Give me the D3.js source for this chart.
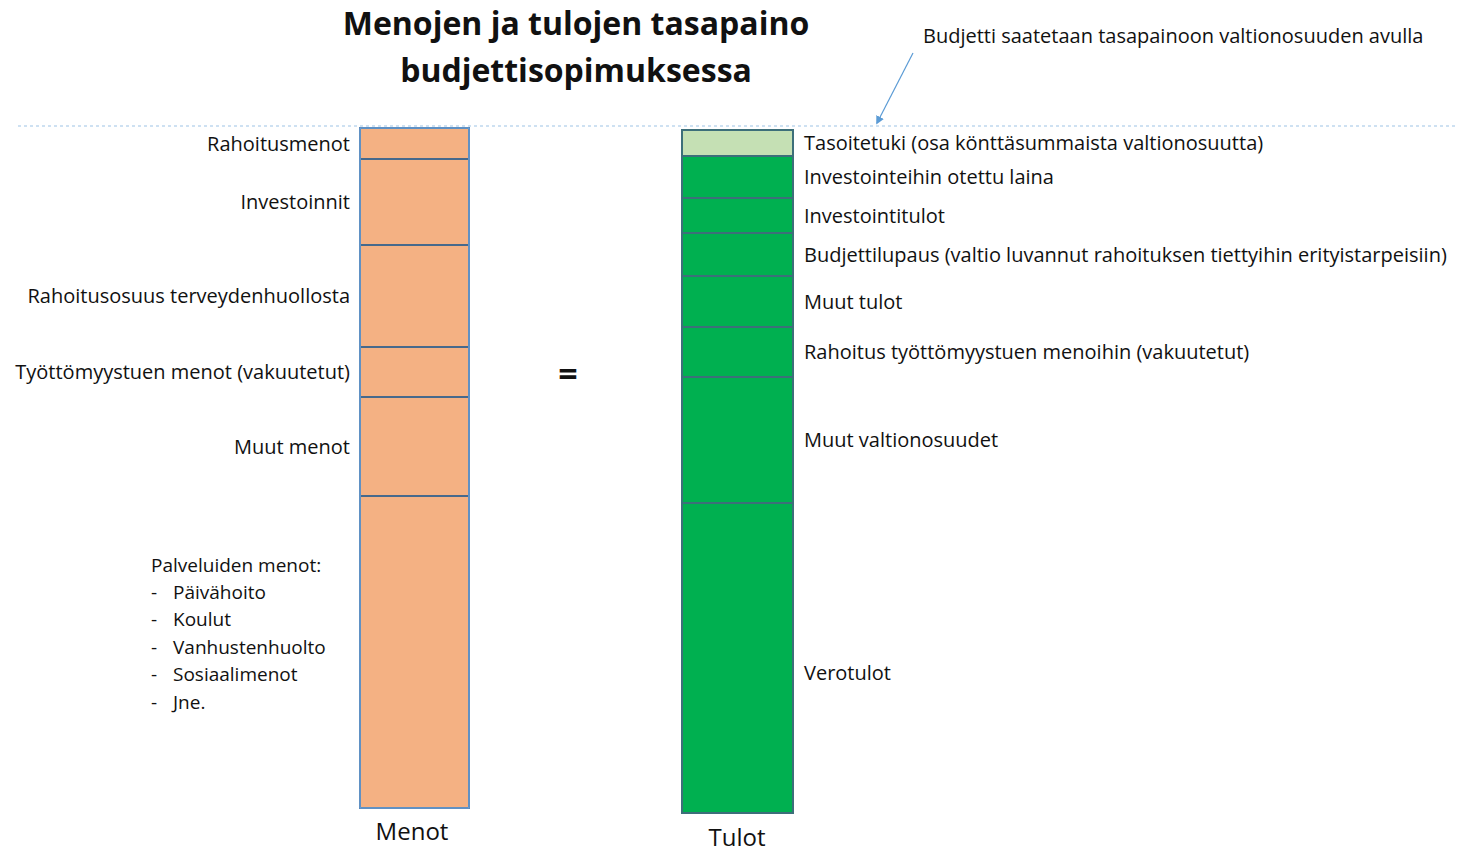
<!DOCTYPE html>
<html>
<head>
<meta charset="utf-8">
<script src="https://cdn.jsdelivr.net/npm/d3@7"></script>
<style>
  body { margin: 0; background: #fff; }
  text { font-family: "Open Sans", Lato, sans-serif; fill: #111; }
</style>
</head>
<body>
<div id="div_chart"></div>
<script>
// expenses (menot), top to bottom
const menotLabels = ["Rahoitusmenot", "Investoinnit", "Rahoitusosuus terveydenhuollosta",
  "Työttömyystuen menot (vakuutetut)", "Muut menot", "Palveluiden menot:"];
const menotValues = [31, 86, 102, 50, 99, 312];
const palveluItems = ["Päivähoito", "Koulut", "Vanhustenhuolto", "Sosiaalimenot", "Jne."];

// income (tulot), top to bottom
const tulotLabels = ["Tasoitetuki (osa könttäsummaista valtionosuutta)", "Investointeihin otettu laina",
  "Investointitulot", "Budjettilupaus (valtio luvannut rahoituksen tiettyihin erityistarpeisiin)",
  "Muut tulot", "Rahoitus työttömyystuen menoihin (vakuutetut)", "Muut valtionosuudet", "Verotulot"];
const tulotValues = [26, 42, 35, 43, 51, 50, 126, 310];
const tulotColors = ["#c5e0b4", "#00b050", "#00b050", "#00b050", "#00b050", "#00b050", "#00b050", "#00b050"];

const titleLines = ["Menojen ja tulojen tasapaino", "budjettisopimuksessa"];
const note = "Budjetti saatetaan tasapainoon valtionosuuden avulla";

const width = 1457, height = 853;
const barW = 110;

const svg = d3.select("#div_chart")
  .append("svg")
    .attr("width", width)
    .attr("height", height);

// turn values into stacked segments
function stack(values, labels) {
  const ends = d3.cumsum(values);
  return values.map((v, i) => ({label: labels[i], y0: ends[i] - v, y1: ends[i], i}));
}
const menot = stack(menotValues, menotLabels);
const tulot = stack(tulotValues, tulotLabels);

// scales
const x = d3.scaleOrdinal().domain(["Menot", "Tulot"]).range([360, 682]);
const yL = d3.scaleLinear().domain([0, d3.sum(menotValues)]).range([128, 808]);
const yR = d3.scaleLinear().domain([0, d3.sum(tulotValues)]).range([130, 813]);

// title
svg.append("g").selectAll("text")
  .data(titleLines)
  .join("text")
    .attr("x", 576)
    .attr("y", (d, i) => 35 + i * 47)
    .attr("text-anchor", "middle")
    .style("font-size", "32px")
    .style("font-weight", "bold")
    .text(d => d);

// balance line
svg.append("line")
  .attr("x1", 18).attr("x2", width)
  .attr("y1", 126).attr("y2", 126)
  .attr("stroke", "#9dc3e6")
  .attr("stroke-width", 1.2)
  .attr("stroke-dasharray", "3,3");

// annotation + arrow
svg.append("defs").append("marker")
  .attr("id", "arrow")
  .attr("viewBox", "0 0 10 10")
  .attr("refX", 8).attr("refY", 5)
  .attr("markerWidth", 7).attr("markerHeight", 7)
  .attr("orient", "auto")
  .append("path")
    .attr("d", "M0,0 L10,5 L0,10 z")
    .attr("fill", "#5b9bd5");

svg.append("line")
  .attr("x1", 913).attr("y1", 53)
  .attr("x2", 877).attr("y2", 123)
  .attr("stroke", "#5b9bd5")
  .attr("stroke-width", 1.2)
  .attr("marker-end", "url(#arrow)");

svg.append("text")
  .attr("x", 923).attr("y", 43)
  .style("font-size", "20px")
  .text(note);

// expenses bar
const gL = svg.append("g");
gL.selectAll("rect")
  .data(menot)
  .join("rect")
    .attr("x", x("Menot"))
    .attr("width", barW - 1)
    .attr("y", d => yL(d.y0))
    .attr("height", d => yL(d.y1) - yL(d.y0))
    .attr("fill", "#f4b183")
    .attr("stroke", "#46698c")
    .attr("stroke-width", 2);

// light blue outer frame of the expenses bar
gL.append("rect")
  .attr("x", x("Menot"))
  .attr("width", barW - 1)
  .attr("y", yL(0))
  .attr("height", yL(d3.sum(menotValues)) - yL(0))
  .attr("fill", "none")
  .attr("stroke", "#6a9fd6")
  .attr("stroke-width", 1.5);

gL.selectAll("text.lbl")
  .data(menot.slice(0, 5))
  .join("text")
    .attr("class", "lbl")
    .attr("x", x("Menot") - 10)
    .attr("y", d => (yL(d.y0) + yL(d.y1)) / 2)
    .attr("dy", "0.35em")
    .attr("text-anchor", "end")
    .style("font-size", "20px")
    .text(d => d.label);

// services block
const pal = menot[5];
const palTop = yL(pal.y0) + 69;
gL.append("text")
  .attr("x", 151).attr("y", palTop)
  .attr("dy", "0.35em")
  .style("font-size", "19px")
  .text(pal.label);
const items = gL.selectAll("g.item")
  .data(palveluItems)
  .join("g")
    .attr("class", "item")
    .attr("transform", (d, i) => `translate(0,${palTop + 27 + i * 27.5})`);
items.append("text")
  .attr("x", 151).attr("dy", "0.35em")
  .style("font-size", "19px")
  .text("-");
items.append("text")
  .attr("x", 173).attr("dy", "0.35em")
  .style("font-size", "19px")
  .text(d => d);

// income bar
const gR = svg.append("g");
gR.selectAll("rect")
  .data(tulot)
  .join("rect")
    .attr("x", x("Tulot"))
    .attr("width", barW + 1)
    .attr("y", d => yR(d.y0))
    .attr("height", d => yR(d.y1) - yR(d.y0))
    .attr("fill", d => tulotColors[d.i])
    .attr("stroke", "#3d6f7a")
    .attr("stroke-width", 2);

gR.selectAll("text")
  .data(tulot)
  .join("text")
    .attr("x", x("Tulot") + barW + 12)
    .attr("y", d => (yR(d.y0) + yR(d.y1)) / 2 + (d.i === 7 ? 15 : 0))
    .attr("dy", "0.35em")
    .style("font-size", "20px")
    .text(d => d.label);

// bar names
svg.append("text")
  .attr("x", x("Menot") + barW / 2 - 3)
  .attr("y", 840)
  .attr("text-anchor", "middle")
  .style("font-size", "24px")
  .text("Menot");
svg.append("text")
  .attr("x", x("Tulot") + barW / 2)
  .attr("y", 846)
  .attr("text-anchor", "middle")
  .style("font-size", "24px")
  .text("Tulot");

// equals sign
svg.append("text")
  .attr("x", 568).attr("y", 374)
  .attr("dy", "0.35em")
  .attr("text-anchor", "middle")
  .style("font-size", "34px")
  .style("font-weight", "bold")
  .text("=");
</script>
</body>
</html>
